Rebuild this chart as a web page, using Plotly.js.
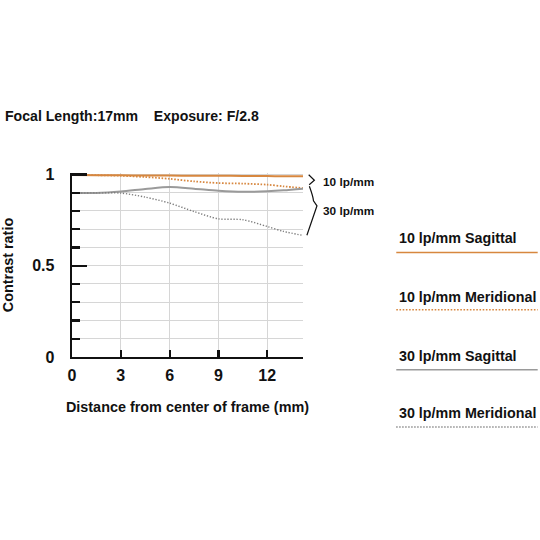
<!DOCTYPE html>
<html>
<head>
<meta charset="utf-8">
<script src="https://cdn.plot.ly/plotly-3.0.1.min.js"></script>
<style>
  html, body { margin: 0; padding: 0; background: #fff; }
  #chart { width: 540px; height: 540px; }
</style>
</head>
<body>
<div id="chart"></div>
<script>
// distance from image centre (mm)
const distance = [0, 1.5, 3, 4.5, 6, 7.5, 9, 10.5, 12, 13, 14.2];

// contrast values
const sag10 = [0.997, 0.996, 0.995, 0.994, 0.994, 0.993, 0.993, 0.992, 0.991, 0.990, 0.990];
const mer10 = [0.998, 0.996, 0.993, 0.986, 0.976, 0.962, 0.953, 0.950, 0.944, 0.935, 0.925];
const sag30 = [0.898, 0.899, 0.907, 0.920, 0.931, 0.922, 0.911, 0.905, 0.908, 0.913, 0.922];
const mer30 = [0.898, 0.899, 0.898, 0.876, 0.843, 0.797, 0.757, 0.752, 0.715, 0.688, 0.666];

const seriesNames = ['10 lp/mm Sagittal', '10 lp/mm Meridional', '30 lp/mm Sagittal', '30 lp/mm Meridional'];
const xTickVals = [0, 3, 6, 9, 12, 14.2];
const xTickText = ['0', '3', '6', '9', '12', ''];

const ORANGE = '#d7873f';
const GREY = '#9a9a9a';
const GREY_DOT = '#7d7d7d';
const FONT = '"Liberation Sans", Arial, sans-serif';

// plot area in pixels, used to place decorations in paper coords
const L = 72, R = 303.3, T = 173.2, B = 357.3;
const px = x => (x - L) / (R - L);
const py = y => (B - y) / (B - T);

const styles = [
    { color: ORANGE, width: 2, dash: 'solid' },
    { color: ORANGE, width: 1.8, dash: '1.6px,1.6px' },
    { color: GREY, width: 2, dash: 'solid' },
    { color: GREY_DOT, width: 1.4, dash: '1.3px,1.7px' }
];
const values = [sag10, mer10, sag30, mer30];

const traces = values.map((v, i) => ({
    x: distance,
    y: v,
    name: seriesNames[i],
    type: 'scatter',
    mode: 'lines',
    line: { color: styles[i].color, width: styles[i].width, dash: styles[i].dash, shape: 'spline', smoothing: 0.8 },
    hoverinfo: 'skip'
}));

// legend: text above a line sample, on the right
const legendRows = [
    { text: 238.3, line: 252.7 },
    { text: 297.3, line: 310 },
    { text: 356, line: 370 },
    { text: 413.3, line: 427.3 }
];

const bold = { family: FONT, color: '#111', weight: 'bold' };

const annotations = [
    {
        text: 'Focal Length:17mm&nbsp;&nbsp;&nbsp;&nbsp;Exposure: F/2.8',
        xref: 'paper', yref: 'paper', x: px(3), y: py(116),
        xanchor: 'left', yanchor: 'middle', showarrow: false,
        font: { ...bold, size: 14.1 }
    },
    {
        text: '10 lp/mm', xref: 'paper', yref: 'paper', x: px(321.5), y: py(182),
        xanchor: 'left', yanchor: 'middle', showarrow: false,
        font: { ...bold, size: 11.8 }
    },
    {
        text: '30 lp/mm', xref: 'paper', yref: 'paper', x: px(321.5), y: py(211),
        xanchor: 'left', yanchor: 'middle', showarrow: false,
        font: { ...bold, size: 11.8 }
    }
];

const shapes = [
    // brackets grouping the curves
    {
        type: 'path', xref: 'paper', yref: 'paper',
        path: `M ${px(309)} ${py(175)} L ${px(314.7)} ${py(180.5)} L ${px(309.5)} ${py(185)}`,
        line: { color: '#111', width: 1.2 }
    },
    {
        type: 'path', xref: 'paper', yref: 'paper',
        path: `M ${px(309.7)} ${py(186.5)} Q ${px(313.5)} ${py(197)} ${px(313.8)} ${py(201)} L ${px(317.3)} ${py(206)} L ${px(307.2)} ${py(235.5)}`,
        line: { color: '#111', width: 1.2 }
    }
];

legendRows.forEach((row, i) => {
    annotations.push({
        text: seriesNames[i], xref: 'paper', yref: 'paper', x: px(397.5), y: py(row.text),
        xanchor: 'left', yanchor: 'middle', showarrow: false,
        font: { ...bold, size: 14.3 }
    });
    shapes.push({
        type: 'line', xref: 'paper', yref: 'paper',
        x0: px(396.7), x1: px(538.3), y0: py(row.line), y1: py(row.line),
        line: { color: styles[i].color, width: styles[i].dash === 'solid' ? 1.6 : 1.4, dash: styles[i].dash }
    });
});

const layout = {
    width: 540,
    height: 540,
    margin: { l: L, r: 540 - R, t: T, b: 540 - B, pad: 0 },
    paper_bgcolor: '#fff',
    plot_bgcolor: '#fff',
    showlegend: false,
    font: bold,
    xaxis: {
        range: [0, 14.2],
        tickvals: xTickVals,
        ticktext: xTickText,
        ticks: 'inside',
        ticklen: 7,
        tickwidth: 2.2,
        tickcolor: '#111',
        showline: true,
        linecolor: '#111',
        linewidth: 2.4,
        showgrid: true,
        gridcolor: '#d6d6d6',
        gridwidth: 1,
        zeroline: false,
        ticklabelstandoff: 2,
        tickfont: { ...bold, size: 16 },
        title: {
            text: 'Distance from center of frame (mm)',
            font: { ...bold, size: 14.4 },
            standoff: 20
        },
        fixedrange: true
    },
    yaxis: {
        range: [0, 1.008],
        tickvals: [0, 0.5, 1],
        ticktext: ['0', '0.5', '1'],
        ticks: 'inside',
        ticklen: 15,
        tickwidth: 2.4,
        tickcolor: '#111',
        minor: {
            dtick: 0.1,
            tick0: 0,
            ticks: 'inside',
            ticklen: 8,
            tickwidth: 2.2,
            tickcolor: '#111',
            showgrid: true,
            gridcolor: '#d6d6d6',
            gridwidth: 1
        },
        showline: true,
        linecolor: '#111',
        linewidth: 2.4,
        showgrid: true,
        gridcolor: '#d6d6d6',
        zeroline: false,
        ticklabelstandoff: 12,
        tickfont: { ...bold, size: 16 },
        title: {
            text: 'Contrast ratio',
            font: { ...bold, size: 14.4 },
            standoff: 17
        },
        fixedrange: true
    },
    annotations: annotations,
    shapes: shapes
};

Plotly.newPlot('chart', traces, layout, { displayModeBar: false, staticPlot: true });
</script>
</body>
</html>
